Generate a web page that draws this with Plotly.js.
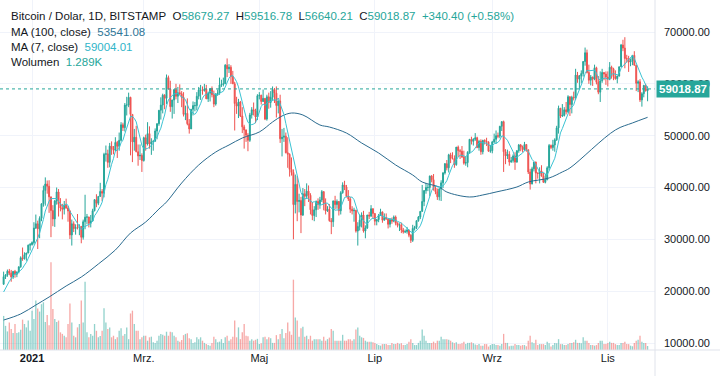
<!DOCTYPE html>
<html><head><meta charset="utf-8">
<script src="https://cdn.plot.ly/plotly-3.0.1.min.js"></script>
<style>html,body{margin:0;padding:0;background:#fff;overflow:hidden}#chart{width:720px;height:376px}</style>
</head><body><div id="chart"></div>
<script>
// ---------- DATA (prices in thousand USD, volume in thousand BTC) ----------
const startDate = [2020, 11, 17]; // first daily candle: 17 Dec 2020
const priorCloses = [18.05,18.80,19.17,19.27,19.44,21.34]; // 11-16 Dec 2020 (MA7 warm-up)

const opens = [
21.34,22.80,23.13,23.86,23.48,22.74,23.82,23.25,23.72,24.69,26.44,26.25,27.04,27.37,28.88,
28.98,29.37,32.19,33.00,32.03,34.05,36.86,39.44,40.67,40.24,38.20,35.55,33.94,37.40,39.15,36.78,36.05,35.80,36.63,36.05,35.47,30.85,33.00,32.07,32.28,32.25,32.50,30.40,33.40,34.28,34.32,
33.10,33.55,35.52,37.66,36.95,38.28,39.25,38.90,46.40,46.50,44.85,47.98,47.40,47.20,48.70,47.95,49.10,52.10,51.55,55.90,55.90,57.40,54.10,48.80,49.70,46.90,46.10,46.20,
45.20,49.60,48.40,50.40,48.40,48.80,48.90,50.90,52.30,54.90,55.90,57.80,57.20,61.20,59.00,55.60,56.90,58.90,57.60,58.30,58.10,57.40,54.10,54.30,52.30,51.30,55.10,55.80,55.80,57.60,58.80,
58.80,58.70,59.00,57.10,58.20,59.10,57.90,56.10,58.10,58.20,59.80,59.90,60.00,63.60,62.90,63.20,61.40,60.00,56.20,55.70,56.50,53.80,51.70,51.10,50.10,49.10,54.00,55.00,54.80,53.60,
57.70,57.80,56.60,57.20,53.20,57.50,56.40,57.40,58.90,58.20,55.80,56.70,49.40,49.70,49.90,46.70,46.40,43.50,42.90,36.70,40.60,37.30,37.50,34.70,38.80,38.30,39.30,38.50,35.70,34.60,35.70,
37.30,36.70,37.60,39.20,36.90,35.50,35.80,33.60,33.40,37.40,36.70,37.30,35.50,39.00,40.50,40.10,38.30,37.80,35.80,35.50,35.60,31.60,32.50,33.70,34.70,31.60,32.20,34.70,34.50,35.90,
35.00,33.50,33.80,34.60,35.30,33.70,34.20,33.90,32.90,33.80,33.50,34.30,33.10,32.70,32.80,31.80,31.40,31.50,31.80,30.80,29.80,32.10,32.30,33.60,34.30,35.40,37.30,39.40,40.00,40.00,42.20,
41.50,39.90,39.20,38.20,39.70,40.90,42.80,44.60,43.80,46.30,45.60,45.60,44.40,47.80,47.10,47.00,45.90,44.70,44.80,46.80,49.30,48.90,49.30,49.60,47.70,48.90,46.90,49.10,48.90,48.80,47.00,
47.10,48.80,49.30,50.00,49.90,51.80,52.70,46.90,46.10,46.40,44.90,45.20,46.10,44.90,47.10,48.20,47.80,47.30,48.30,47.30,43.00,40.70,43.60,44.90,42.80,42.70,43.20,42.20,41.00,41.50,
43.80,48.10,47.70,48.20,49.20,51.50,55.30,53.80,53.90,55.00,54.60,57.50,56.00,57.40,57.30,61.70,60.90,61.50,62.00,64.30,66.00,62.20,60.70,61.30,60.90,63.10,60.30,58.40,60.60,62.20,61.90,
61.30,60.90,63.20,62.90,61.40,61.00,61.50,63.30,67.50,66.90,64.90,64.80,64.20,64.40,65.50,63.60,60.10,60.40,56.90,58.10,59.70,58.67927];

const highs = [
23.77,23.28,24.17,24.29,24.10,23.84,24.10,23.78,24.78,26.72,28.42,27.50,27.38,28.99,29.30,
29.60,33.30,34.78,33.60,34.44,36.90,40.36,41.95,41.35,41.40,38.20,36.60,37.60,40.00,39.70,37.95,36.85,37.40,37.85,36.42,35.60,33.82,33.47,32.90,34.88,32.90,32.56,33.80,38.60,34.90,34.35,
34.70,35.90,37.70,38.70,38.30,40.90,39.70,46.70,48.10,47.30,48.60,48.90,48.00,49.70,49.00,50.60,52.60,52.50,56.30,57.50,58.30,57.50,54.10,51.30,51.90,48.30,48.30,46.60,
49.80,50.20,52.60,51.80,49.50,49.20,51.40,52.40,54.90,57.40,58.10,58.00,61.80,61.60,60.60,56.90,58.90,60.00,59.40,59.90,58.60,58.40,55.80,57.20,53.20,55.10,56.60,56.50,58.40,59.40,59.80,
59.50,60.00,59.80,58.50,59.20,59.50,58.70,58.10,58.90,61.20,60.80,61.20,63.80,64.90,63.80,63.60,62.50,60.40,57.50,57.10,56.70,55.50,52.10,51.20,50.50,54.40,55.50,56.40,55.20,58.00,
58.40,57.90,58.90,57.20,57.90,58.30,58.60,59.50,59.20,59.50,56.80,57.90,51.30,51.50,50.60,49.70,46.60,45.80,43.50,42.50,42.20,38.80,38.20,39.90,39.70,40.80,40.40,38.90,37.20,36.40,37.50,
37.90,38.20,39.50,39.30,37.90,36.40,36.80,34.10,37.50,38.40,37.70,37.40,39.30,41.00,41.30,40.50,39.50,38.20,36.40,36.10,35.70,33.30,34.80,35.20,35.50,32.70,34.70,35.30,36.60,36.00,
35.00,33.90,34.90,35.90,35.30,35.00,35.00,33.90,34.10,34.20,34.60,34.60,33.30,33.10,33.20,32.20,31.90,32.40,31.90,31.00,32.80,32.60,33.60,34.50,35.40,40.50,39.50,40.90,40.60,42.30,42.40,
42.60,40.40,39.80,39.90,41.40,43.00,44.70,45.30,46.50,46.70,46.80,46.20,47.80,48.10,47.40,48.00,47.10,46.00,47.00,49.30,49.80,49.50,50.50,49.80,49.20,49.30,49.20,49.30,49.60,48.90,48.20,
49.00,50.40,51.00,50.60,51.90,52.80,52.90,47.40,47.30,47.00,45.90,46.40,46.80,47.20,48.40,48.40,48.10,48.80,48.30,47.30,43.60,44.00,44.90,45.00,42.90,43.90,44.30,42.80,42.60,44.10,
48.40,48.30,49.20,49.50,51.90,55.80,55.30,56.10,55.50,56.50,57.80,57.60,57.70,58.50,62.90,62.30,61.70,62.60,64.40,67.00,66.60,63.70,61.70,61.40,63.70,63.30,61.50,62.40,62.90,62.20,62.40,
62.40,64.20,63.50,63.10,62.60,61.60,63.30,67.70,68.50,69.00,65.60,65.40,64.90,65.50,66.30,63.60,60.70,60.90,58.40,59.80,60.00,59.51678];

const lows = [
21.23,22.35,22.77,23.07,21.82,22.36,22.60,22.70,23.43,24.52,25.86,26.10,25.88,27.32,27.85,
28.80,29.00,32.00,28.13,30.22,33.50,36.30,36.50,38.80,35.11,30.42,32.53,32.40,36.70,34.40,35.40,33.85,34.80,35.90,33.40,30.07,28.80,31.40,30.90,31.91,30.80,29.24,29.95,31.95,32.90,32.30,
32.30,33.45,35.40,36.20,36.60,38.20,37.40,38.10,45.00,43.80,43.90,46.30,46.40,47.00,45.70,47.10,48.90,50.90,50.80,53.90,55.50,46.20,44.90,47.10,46.80,44.20,45.30,43.00,
45.00,47.10,48.10,47.50,46.30,47.10,48.90,49.30,51.90,53.10,54.30,55.10,56.10,58.90,54.60,53.30,54.20,57.00,56.30,57.80,55.50,53.70,53.00,52.00,50.40,51.30,53.90,54.70,54.90,57.00,56.90,
57.90,58.50,57.10,56.50,56.60,57.40,55.50,55.80,57.70,57.90,59.40,59.50,60.00,61.30,62.10,60.00,60.00,51.00,54.20,53.40,53.60,50.50,47.50,48.80,47.00,48.80,53.30,53.90,52.40,53.00,
57.00,56.00,56.50,53.00,52.90,55.20,55.40,56.90,56.30,53.50,54.30,48.60,46.00,48.80,46.60,43.80,42.10,42.30,30.00,35.00,33.50,35.20,31.20,34.50,36.40,37.80,37.20,34.80,33.70,33.50,34.30,
35.70,35.90,37.20,35.60,34.80,35.30,33.40,31.00,32.40,35.80,35.90,34.60,34.80,38.80,39.50,38.10,37.40,35.10,34.80,33.40,31.30,28.80,31.70,32.30,31.30,30.20,32.00,33.90,34.30,34.00,
32.70,32.70,33.30,34.50,33.20,33.60,33.80,32.10,32.30,33.00,33.30,32.70,32.30,31.60,31.20,31.10,31.20,31.10,30.40,29.30,29.50,31.70,32.00,33.40,33.90,35.30,36.40,38.80,39.30,38.30,41.00,
39.40,38.70,37.60,37.50,37.40,39.90,42.50,43.30,42.90,44.70,45.40,43.80,44.20,45.90,45.50,45.70,44.40,44.20,43.90,46.70,48.30,48.10,49.00,47.60,47.10,46.30,46.40,48.30,48.00,46.90,46.70,
46.60,48.60,48.40,49.50,49.50,50.90,43.00,44.50,45.50,44.20,44.80,44.80,43.40,44.80,46.70,47.00,46.80,47.10,46.90,42.60,39.60,40.60,43.10,40.80,41.70,40.80,42.10,40.90,40.80,41.40,
43.30,47.40,47.10,46.90,49.00,50.40,53.40,53.60,53.70,54.10,54.40,53.80,54.30,56.80,56.90,60.20,58.90,60.10,61.40,63.50,62.00,60.00,59.70,59.60,60.70,59.90,58.00,56.50,60.20,60.70,59.80,
59.50,60.70,61.00,60.70,60.80,60.10,61.40,63.30,66.30,63.00,64.10,62.30,63.40,63.60,63.50,58.60,58.40,56.50,55.60,57.40,58.50,56.64021];

const closes = [
22.80,23.13,23.86,23.48,22.74,23.82,23.25,23.72,24.69,26.44,26.25,27.04,27.37,28.88,28.98,
29.37,32.19,33.00,32.03,34.05,36.86,39.44,40.67,40.24,38.20,35.55,33.94,37.40,39.15,36.78,36.05,35.80,36.63,36.05,35.47,30.85,33.00,32.07,32.28,32.25,32.50,30.40,33.40,34.28,34.32,33.10,
33.55,35.52,37.66,36.95,38.28,39.25,38.90,46.40,46.50,44.85,47.98,47.40,47.20,48.70,47.95,49.10,52.10,51.55,55.90,55.90,57.40,54.10,48.80,49.70,46.90,46.10,46.20,45.20,
49.60,48.40,50.40,48.40,48.80,48.90,50.90,52.30,54.90,55.90,57.80,57.20,61.20,59.00,55.60,56.90,58.90,57.60,58.30,58.10,57.40,54.10,54.30,52.30,51.30,55.10,55.80,55.80,57.60,58.80,58.80,
58.70,59.00,57.10,58.20,59.10,57.90,56.10,58.10,58.20,59.80,59.90,60.00,63.60,62.90,63.20,61.40,60.00,56.20,55.70,56.50,53.80,51.70,51.10,50.10,49.10,54.00,55.00,54.80,53.60,57.70,
57.80,56.60,57.20,53.20,57.50,56.40,57.40,58.90,58.20,55.80,56.70,49.40,49.70,49.90,46.70,46.40,43.50,42.90,36.70,40.60,37.30,37.50,34.70,38.80,38.30,39.30,38.50,35.70,34.60,35.70,37.30,
36.70,37.60,39.20,36.90,35.50,35.80,33.60,33.40,37.40,36.70,37.30,35.50,39.00,40.50,40.10,38.30,37.80,35.80,35.50,35.60,31.60,32.50,33.70,34.70,31.60,32.20,34.70,34.50,35.90,35.00,
33.50,33.80,34.60,35.30,33.70,34.20,33.90,32.90,33.80,33.50,34.30,33.10,32.70,32.80,31.80,31.40,31.50,31.80,30.80,29.80,32.10,32.30,33.60,34.30,35.40,37.30,39.40,40.00,40.00,42.20,41.50,
39.90,39.20,38.20,39.70,40.90,42.80,44.60,43.80,46.30,45.60,45.60,44.40,47.80,47.10,47.00,45.90,44.70,44.80,46.80,49.30,48.90,49.30,49.60,47.70,48.90,46.90,49.10,48.90,48.80,47.00,47.10,
48.80,49.30,50.00,49.90,51.80,52.70,46.90,46.10,46.40,44.90,45.20,46.10,44.90,47.10,48.20,47.80,47.30,48.30,47.30,43.00,40.70,43.60,44.90,42.80,42.70,43.20,42.20,41.00,41.50,43.80,
48.10,47.70,48.20,49.20,51.50,55.30,53.80,53.90,55.00,54.60,57.50,56.00,57.40,57.30,61.70,60.90,61.50,62.00,64.30,66.00,62.20,60.70,61.30,60.90,63.10,60.30,58.40,60.60,62.20,61.90,61.30,
60.90,63.20,62.90,61.40,61.00,61.50,63.30,67.50,66.90,64.90,64.80,64.20,64.40,65.50,63.60,60.10,60.40,56.90,58.10,59.70,58.67887,59.01887];

const volumes = [
11,7.8,6,8.9,6.8,5.5,8.4,5.5,5.7,6.5,9.8,8.4,7.3,9.5,6.2,
12.7,10,16,13.4,12.4,14.8,15.4,9,11.3,8,28.3,13.2,10,9,9.5,5.7,5.2,4.6,4.1,8.4,15,8.9,4.6,4.1,7.3,8.4,16,8.9,22,5.7,4.1,
5.2,4.6,8.4,6.2,4.1,4.5,6.2,13.5,8.9,6.8,7.3,4.1,4.6,3.5,4.1,6.2,7,4.6,5.2,7.3,3.5,11.8,12.7,8.4,6.2,6.2,3.5,4.1,
4.6,4.6,3,4.1,4.3,2.5,2.3,3,4.6,5.2,4.9,4.6,5.9,4.6,5.9,5.7,4.6,4.1,3,2.7,3.2,4.8,5.2,5.4,3.8,3.5,2.3,2.5,4.1,3.5,4.1,
3,2.3,1.9,1.6,1.4,2.3,4.3,3.5,2.5,2.7,3.5,2.3,4.1,4.6,3,3.5,4.3,9.5,4.1,7.3,3.5,5.7,8.4,4.6,4.4,3,3.5,3,3.3,3.6,
1.9,2.2,4.1,4.3,3.5,4.1,3.8,2.3,2.3,4.8,3.5,5.2,6.8,3.8,5.5,8.9,6,4.9,22.7,10.5,9.5,4.3,7,7.5,4.3,4.6,3.5,4.6,3,3.5,3.5,
3.5,3.5,3,4.3,3,3.5,4,6.8,6.2,3,3,3,3,4.9,3,3,3.5,3.5,3,3.5,6.6,7.3,4.6,4.1,3.9,3,2.7,2.7,2.7,2.5,
2.3,1.9,1.6,1.4,1.9,1.9,1.9,1.6,1.6,2.3,1.9,1.9,2.3,2,2.2,1.6,1.6,1.9,2.7,3.5,2.3,1.6,1.6,2.3,3,6.6,4.6,3,2.3,2.3,2.3,
2.7,2.2,3,3,4.3,3.5,3.5,3.5,3.3,3,2.5,2.2,2.5,1.9,1.9,2.2,2.7,1.9,2.3,2.3,2.5,2.2,1.8,1.6,1.9,1.4,1.4,1.9,1.9,1.1,1.6,
1.9,1.9,1.6,1.6,1.4,1.9,5.2,2.3,2.3,1.2,1.4,1.4,1.9,1.6,1.6,1.4,1.6,1.6,1.2,3,4.6,2.5,2.2,3.3,1.6,1.9,1.9,1.9,1.6,2.7,
2.2,1.1,1.6,2.3,2.2,3.5,1.9,1.9,1.6,1.6,1.9,2.3,2.3,2.5,3.3,2.3,2.3,2.2,4.1,3,3,2.3,1.6,1.6,1.4,1.6,2.3,3,3,1.9,1.9,
2.3,2.7,2.3,2.3,1.9,1.6,1.6,2.3,2.3,2.7,1.9,1.9,1.4,1.2,2.3,3,3.3,4.6,2.7,2.3,2.3,1.289];

// MA(100)
const ma100Dates = ['2020-12-17','2020-12-26','2021-01-03','2021-01-10','2021-01-19','2021-01-27','2021-02-05','2021-02-14','2021-02-22','2021-03-02','2021-03-09','2021-03-13','2021-03-21','2021-03-30','2021-04-08','2021-04-15','2021-04-22','2021-05-01','2021-05-08','2021-05-13','2021-05-18','2021-05-24','2021-06-02','2021-06-07','2021-06-16','2021-06-24','2021-07-03','2021-07-12','2021-07-21','2021-07-26','2021-08-04','2021-08-08','2021-08-20','2021-08-27','2021-09-03','2021-09-14','2021-09-20','2021-10-01','2021-10-08','2021-10-12','2021-11-05','2021-11-14','2021-11-22'];
const ma100Vals = [14.43,15.6,17.33,18.87,21.0,22.73,25.24,27.94,31.22,33.34,35.85,37.2,40.87,44.34,46.85,48.2,49.55,50.71,52.64,53.8,54.37,53.99,52.06,51.67,50.51,48.59,46.66,44.34,42.41,41.06,40.1,39.13,38.17,38.56,39.13,40.1,41.06,41.84,43.0,43.77,51.1,52.45,53.54];

const tickDates = ['2021-01-01','2021-03-01','2021-05-01','2021-07-01','2021-09-01','2021-11-01'];
const tickLabels = ['<b>2021</b>','Mrz.','Maj','Lip','Wrz','Lis'];
const priceTicks = [10000,20000,30000,40000,50000,60000,70000];
const lastPrice = 59018.87;

// ---------- BUILD ----------
const K = 1000;
const dates = closes.map((_, i) => new Date(Date.UTC(startDate[0], startDate[1], startDate[2] + i)).toISOString().slice(0, 10));
const allC = priorCloses.concat(closes);
const ma7 = closes.map((_, i) => { let s = 0; for (let k = 0; k < 7; k++) s += allC[i + 6 - k]; return s / 7 * K; });
const UP = '#26a69a', DN = '#ef5350';
const volColors = closes.map((c, i) => c >= opens[i] ? 'rgba(38,166,154,0.5)' : 'rgba(239,83,80,0.5)');

const traces = [
  {type:'bar', x:dates, y:volumes, yaxis:'y', marker:{color:volColors, line:{width:0}}, hoverinfo:'skip'},
  {type:'candlestick', x:dates, yaxis:'y2',
   open:opens.map(v=>v*K), high:highs.map(v=>v*K), low:lows.map(v=>v*K), close:closes.map(v=>v*K),
   increasing:{line:{color:UP,width:1}, fillcolor:UP}, decreasing:{line:{color:DN,width:1}, fillcolor:DN},
   whiskerwidth:0, hoverinfo:'skip'},
  {type:'scatter', mode:'lines', x:ma100Dates, y:ma100Vals.map(v=>v*K), yaxis:'y2', line:{color:'#2a6b8f', width:1, shape:'spline', smoothing:1}, hoverinfo:'skip'},
  {type:'scatter', mode:'lines', x:dates, y:ma7, yaxis:'y2', line:{color:'#3bc3d3', width:1}, hoverinfo:'skip'}
];

const PW = 655, PH = 350; // plot area size in px
const TXT = '#131722';
const lineY = px => 1 - px / PH;
const legend = [
  `Bitcoin / Dolar, 1D, BITSTAMP\u00a0\u00a0O<span style="color:${UP}">58679.27</span>\u00a0\u00a0H<span style="color:${UP}">59516.78</span>\u00a0\u00a0L<span style="color:${UP}">56640.21</span>\u00a0\u00a0C<span style="color:${UP}">59018.87</span>\u00a0\u00a0<span style="color:${UP}">+340.40 (+0.58%)</span>`,
  `MA (100, close)\u00a0\u00a0<span style="color:#2e7696">53541.08</span>`,
  `MA (7, close)\u00a0\u00a0<span style="color:#2fb5c9">59004.01</span>`,
  `Wolumen\u00a0\u00a0<span style="color:${UP}">1.289K</span>`
];
const legendY = [16, 32, 47, 62];
const annotations = legend.map((t, i) => ({
  text:t, xref:'paper', yref:'paper', x:10/PW, y:lineY(legendY[i]), xanchor:'left', yanchor:'middle',
  showarrow:false, font:{size:11.5, color:TXT}, borderpad:0
}));
annotations.push({
  text:'<b>59018.87</b>', xref:'paper', yref:'y2', x:1, xshift:1, y:lastPrice, xanchor:'left', yanchor:'middle',
  showarrow:false, bgcolor:UP, font:{size:11.5, color:'#ffffff'}, borderpad:2
});

const shapes = [
  {type:'line', xref:'paper', yref:'y2', x0:0, x1:1, y0:lastPrice, y1:lastPrice, line:{color:UP, width:1, dash:'dot'}},
  {type:'line', xref:'paper', yref:'paper', x0:1, x1:1, y0:-26/PH, y1:1, line:{color:'#e0e3eb', width:1}},
  {type:'line', xref:'paper', yref:'paper', x0:0, x1:720/PW, y0:0, y1:0, line:{color:'#e0e3eb', width:1}}
];

const layout = {
  width:720, height:376, margin:{l:0, r:65, t:0, b:26, pad:0},
  paper_bgcolor:'#ffffff', plot_bgcolor:'#ffffff', showlegend:false, hovermode:false,
  font:{family:'Liberation Sans, Arial, sans-serif', size:11, color:TXT},
  bargap:0.3,
  xaxis:{type:'date', range:['2020-12-15 02:00','2021-11-25 22:00'], tickvals:tickDates, ticktext:tickLabels,
         showgrid:true, gridcolor:'#f0f3fa', gridwidth:1, zeroline:false, showline:false, ticks:'',
         rangeslider:{visible:false}, tickfont:{size:11, color:TXT}, fixedrange:true},
  yaxis:{range:[0, 113], visible:false, showgrid:false, zeroline:false, fixedrange:true},
  yaxis2:{overlaying:'y', side:'right', anchor:'x', range:[8650, 76175], tickvals:priceTicks,
          ticktext:priceTicks.map(v => v.toFixed(2)), showgrid:true, gridcolor:'#f0f3fa', gridwidth:1,
          zeroline:false, showline:false, ticks:'', ticklabelstandoff:8, tickfont:{size:11, color:TXT}, fixedrange:true},
  shapes, annotations
};

Plotly.newPlot('chart', traces, layout, {staticPlot:true, displayModeBar:false});
</script></body></html>
